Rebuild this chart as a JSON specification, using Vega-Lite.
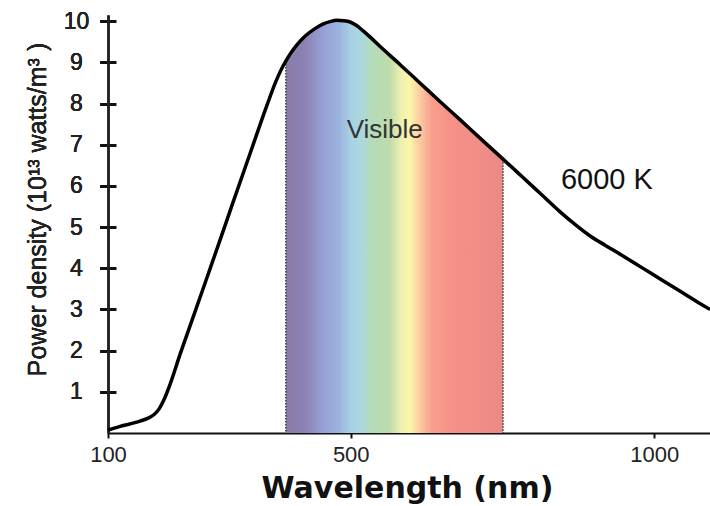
{
  "$schema": "https://vega.github.io/schema/vega-lite/v6.json",
  "autosize": "none",
  "width": 602,
  "height": 418,
  "padding": {"left": 108, "top": 15, "right": 0, "bottom": 73},
  "background": "white",
  "config": {"view": {"stroke": null}, "font": "Liberation Sans"},
  "data": {"values": [
    {"nm": 100, "power": 0.07}, {"nm": 120, "power": 0.16}, {"nm": 136, "power": 0.22},
    {"nm": 153, "power": 0.29}, {"nm": 166, "power": 0.36}, {"nm": 176, "power": 0.45},
    {"nm": 184, "power": 0.58}, {"nm": 192, "power": 0.8}, {"nm": 202, "power": 1.17},
    {"nm": 219, "power": 1.92}, {"nm": 240, "power": 2.8}, {"nm": 263, "power": 3.77},
    {"nm": 285, "power": 4.7}, {"nm": 306, "power": 5.6}, {"nm": 334, "power": 6.78},
    {"nm": 362, "power": 7.96}, {"nm": 377, "power": 8.55}, {"nm": 388, "power": 8.9},
    {"nm": 393, "power": 9.03}, {"nm": 400, "power": 9.2}, {"nm": 411, "power": 9.42},
    {"nm": 425, "power": 9.64}, {"nm": 441, "power": 9.82}, {"nm": 454, "power": 9.93},
    {"nm": 466, "power": 9.99}, {"nm": 477, "power": 10.02}, {"nm": 489, "power": 10.01},
    {"nm": 499, "power": 9.98}, {"nm": 509, "power": 9.9}, {"nm": 520, "power": 9.77},
    {"nm": 533, "power": 9.6}, {"nm": 548, "power": 9.39}, {"nm": 581, "power": 8.95},
    {"nm": 614, "power": 8.5}, {"nm": 647, "power": 8.05}, {"nm": 680, "power": 7.61},
    {"nm": 713, "power": 7.16}, {"nm": 751, "power": 6.65}, {"nm": 779, "power": 6.27},
    {"nm": 812, "power": 5.82}, {"nm": 845, "power": 5.37}, {"nm": 870, "power": 5.06},
    {"nm": 894, "power": 4.79}, {"nm": 919, "power": 4.56}, {"nm": 944, "power": 4.34},
    {"nm": 977, "power": 4.04}, {"nm": 1010, "power": 3.74}, {"nm": 1043, "power": 3.44},
    {"nm": 1076, "power": 3.14}, {"nm": 1092, "power": 3.0}
  ]},
  "encoding": {
    "x": {
      "field": "nm", "type": "quantitative",
      "scale": {"domain": [100, 1092], "nice": false, "zero": false},
      "axis": {
        "values": [100, 500, 1000], "format": "d", "grid": false,
        "domainColor": "#111", "domainWidth": 2,
        "tickColor": "#111", "tickWidth": 2, "tickSize": 5,
        "labelFont": "Liberation Sans", "labelFontSize": 22, "labelColor": "#222", "labelPadding": 6,
        "labelFlush": false,
        "title": "Wavelength (nm)", "titleFont": "DejaVu Sans", "titleFontWeight": "bold",
        "titleFontSize": 30, "titleColor": "#111", "titleX": 299, "titleY": 64,
        "titleBaseline": "alphabetic", "titleAlign": "center"
      }
    },
    "y": {
      "field": "power", "type": "quantitative",
      "scale": {"domain": [0, 10.15], "nice": false},
      "axis": {
        "orient": "left",
        "values": [1, 2, 3, 4, 5, 6, 7, 8, 9, 10], "grid": false,
        "domainColor": "#222", "domainWidth": 2,
        "tickColor": "#111", "tickWidth": 3, "tickSize": 8,
        "labelFont": "Liberation Sans", "labelFontSize": 23, "labelColor": "#222",
        "labelAlign": "center", "labelBaseline": "middle", "labelPadding": 24,
        "title": "Power density (10¹³ watts/m³ )", "titleFont": "Liberation Sans",
        "titleFontSize": 25, "titleFontWeight": "normal", "titleColor": "#222",
        "titleAngle": -90, "titleX": -63, "titleY": 194, "titleBaseline": "alphabetic", "titleAlign": "center"
      }
    }
  },
  "layer": [
    {
      "transform": [{"filter": {"field": "nm", "range": [393, 751]}}],
      "mark": {
        "type": "area", "interpolate": "monotone",
        "fill": {
          "gradient": "linear", "x1": 0, "y1": 0, "x2": 1, "y2": 0,
          "stops": [
            {"offset": 0, "color": "#8a7aa8"},
            {"offset": 0.09, "color": "#8c82b4"},
            {"offset": 0.17, "color": "#96a0d6"},
            {"offset": 0.25, "color": "#9cb4de"},
            {"offset": 0.3, "color": "#a8d2e4"},
            {"offset": 0.35, "color": "#aad8dc"},
            {"offset": 0.395, "color": "#b4dcba"},
            {"offset": 0.48, "color": "#bedcaa"},
            {"offset": 0.53, "color": "#eef0b0"},
            {"offset": 0.57, "color": "#fcf6aa"},
            {"offset": 0.62, "color": "#fcc8a0"},
            {"offset": 0.67, "color": "#f8a08e"},
            {"offset": 0.76, "color": "#f69088"},
            {"offset": 1, "color": "#ea8a86"}
          ]
        }
      },
      "encoding": {
        "y": {
          "field": "power", "type": "quantitative",
          "axis": {
            "orient": "left", "offset": -8,
            "values": [1, 2, 3, 4, 5, 6, 7, 8, 9, 10], "grid": false,
            "domain": false, "labels": false, "title": null,
            "tickColor": "#111", "tickWidth": 3, "tickSize": 8
          }
        }
      }
    },
    {
      "transform": [{"filter": {"field": "nm", "oneOf": [393, 751]}}],
      "mark": {"type": "rule", "color": "#444", "strokeWidth": 1.5, "strokeDash": [1.5, 1.5]},
      "encoding": {"y2": {"datum": 0}}
    },
    {
      "mark": {"type": "line", "color": "#000", "strokeWidth": 3.5, "interpolate": "monotone"}
    },
    {
      "data": {"values": [{"nm": 556, "power": 7.16, "label": "Visible"}]},
      "mark": {"type": "text", "font": "Liberation Sans", "fontSize": 26, "color": "#333", "align": "center", "baseline": "alphabetic"},
      "encoding": {"text": {"field": "label"}}
    },
    {
      "data": {"values": [{"nm": 922, "power": 5.92, "label": "6000 K"}]},
      "mark": {"type": "text", "font": "Liberation Sans", "fontSize": 29, "color": "#111", "align": "center", "baseline": "alphabetic"},
      "encoding": {"text": {"field": "label"}}
    }
  ],
  "resolve": {"scale": {"y": "shared"}, "axis": {"y": "independent"}}
}
